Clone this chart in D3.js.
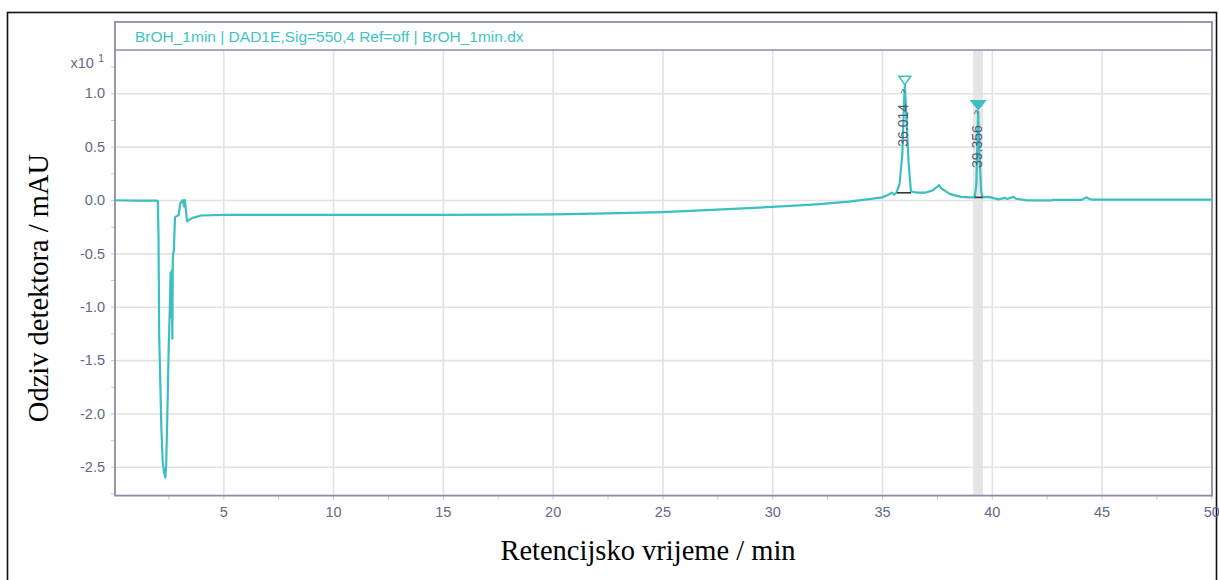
<!DOCTYPE html>
<html>
<head>
<meta charset="utf-8">
<script src="https://cdn.jsdelivr.net/npm/d3@7"></script>
<style>
  html, body { margin: 0; padding: 0; background: #fff; }
  svg { display: block; }
</style>
</head>
<body>
<svg id="chart" width="1219" height="580"></svg>
<script>
// ---- data ----
const titleText = "BrOH_1min | DAD1E,Sig=550,4 Ref=off | BrOH_1min.dx";
const xTitle = "Retencijsko vrijeme / min";
const yTitle = "Odziv detektora / mAU";
const yExponent = "x10";
const yExponentPow = "1";

const times = [
  0.07, 1.0, 1.95, 2.02, 2.05, 2.08, 2.18, 2.24, 2.30, 2.36, 2.40, 2.45, 2.51,
  2.57, 2.60, 2.63, 2.65, 2.68, 2.70, 2.72, 2.75, 2.80, 2.97, 3.04, 3.12, 3.16,
  3.21, 3.25, 3.35, 3.57, 4.0, 5.0, 10.0, 15.0, 20.0, 22.5, 25.0, 27.5, 30.0,
  32.0, 33.5, 34.5, 35.0, 35.3, 35.45, 35.55, 35.66, 35.8, 35.93, 36.0, 36.04,
  36.12, 36.21, 36.32, 36.6, 37.0, 37.3, 37.5, 37.6, 37.7, 38.1, 38.6, 39.0,
  39.22, 39.30, 39.35, 39.38, 39.44, 39.52, 39.58, 39.87, 40.3, 40.6, 40.7,
  41.0, 41.1, 41.6, 42.7, 42.8, 44.1, 44.3, 44.5, 44.65, 50.03
];
const signal = [
  -0.002, -0.005, -0.005, -0.01, -0.35, -1.27, -2.14, -2.45, -2.55, -2.60, -2.48, -2.03, -1.41,
  -0.97, -0.68, -1.10, -0.66, -1.30, -0.55, -0.50, -0.47, -0.16, -0.14, -0.03, -0.01, 0.0,
  -0.06, 0.0, -0.20, -0.17, -0.145, -0.14, -0.14, -0.14, -0.135, -0.125, -0.113, -0.09, -0.065,
  -0.04, -0.015, 0.01, 0.025, 0.05, 0.07, 0.05, 0.07, 0.15, 0.44, 0.90, 1.08,
  0.75, 0.35, 0.08, 0.07, 0.07, 0.09, 0.12, 0.14, 0.11, 0.055, 0.03, 0.025,
  0.025, 0.15, 0.60, 0.83, 0.40, 0.08, 0.025, 0.03, 0.006, 0.02, 0.01,
  0.03, 0.012, -0.003, -0.003, 0.002, 0.002, 0.025, 0.005, 0.003, 0.003
];

const xMajorTicks = [5, 10, 15, 20, 25, 30, 35, 40, 45, 50];
const xMinorTicks = [2.5, 7.5, 12.5, 17.5, 22.5, 27.5, 32.5, 37.5, 42.5, 47.5];
const yMajorTicks = [1.0, 0.5, 0.0, -0.5, -1.0, -1.5, -2.0, -2.5];
const yMinorTicks = [1.25, 0.75, 0.25, -0.25, -0.75, -1.25, -1.75, -2.25, -2.75];

const peakLabels = ["36.014", "39.356"];
const peakTimes = [36.04, 39.38];
const peakBaseStart = [35.68, 39.22];
const peakBaseEnd = [36.32, 39.58];
const peakBaseValue = [0.068, 0.025];
const peakMarkerTip = [1.08, 0.85];
const peakMarkerFilled = [false, true];
const peakLabelBottom = [0.50, 0.30];
const highlightBand = [39.15, 39.60];

// ---- layout ----
const svg = d3.select("#chart");
const L = 115, R = 1212, T = 50, B = 495.6, titleTop = 22;
const x = d3.scaleLinear().domain([0.068, 50.03]).range([L, R]);
const y = d3.scaleLinear().domain([1.406, -2.77]).range([T, B]);

const teal = "#3cbfc0";
const axisCol = "#8a8da6";
const gridCol = "#e2e2e2";
const labelCol = "#5e6a88";
const sans = "Liberation Sans, Arial, sans-serif";

// outer frame
svg.append("rect").attr("x", 7.5).attr("y", 12.5).attr("width", 1209).attr("height", 580)
  .attr("fill", "none").attr("stroke", "#111").attr("stroke-width", 1.6);

// highlight band
svg.append("rect")
  .attr("x", x(highlightBand[0])).attr("y", T)
  .attr("width", x(highlightBand[1]) - x(highlightBand[0])).attr("height", B - T)
  .attr("fill", "#e5e5e5");

// gridlines
const gx = svg.append("g").attr("transform", `translate(0,${B})`)
  .call(d3.axisBottom(x).tickValues(xMajorTicks.filter(d => d < 50)).tickSize(-(B - T)).tickFormat(""));
gx.select(".domain").remove();
gx.selectAll("line").attr("stroke", gridCol).attr("stroke-width", 1.6);

const gy = svg.append("g").attr("transform", `translate(${L},0)`)
  .call(d3.axisLeft(y).tickValues(yMajorTicks).tickSize(-(R - L)).tickFormat(""));
gy.select(".domain").remove();
gy.selectAll("line").attr("stroke", gridCol).attr("stroke-width", 1.6);

// axes with labels
const fmt = d => d.toFixed(1);
const ax = svg.append("g").attr("transform", `translate(0,${B})`)
  .call(d3.axisBottom(x).tickValues(xMajorTicks).tickSize(4).tickPadding(7).tickFormat(d => d));
ax.select(".domain").remove();
ax.selectAll("line").attr("stroke", "#c8c8d0");
ax.selectAll("text").attr("fill", labelCol).style("font-family", sans).style("font-size", "14.5px");

const axm = svg.append("g").attr("transform", `translate(0,${B})`)
  .call(d3.axisBottom(x).tickValues(xMinorTicks).tickSize(4).tickFormat(""));
axm.select(".domain").remove();
axm.selectAll("line").attr("stroke", "#c8c8d0");

const ay = svg.append("g").attr("transform", `translate(${L},0)`)
  .call(d3.axisLeft(y).tickValues(yMajorTicks).tickSize(4).tickPadding(6).tickFormat(fmt));
ay.select(".domain").remove();
ay.selectAll("line").attr("stroke", "#c8c8d0");
ay.selectAll("text").attr("fill", labelCol).style("font-family", sans).style("font-size", "14.5px");

const aym = svg.append("g").attr("transform", `translate(${L},0)`)
  .call(d3.axisLeft(y).tickValues(yMinorTicks).tickSize(4).tickFormat(""));
aym.select(".domain").remove();
aym.selectAll("line").attr("stroke", "#c8c8d0");

// exponent label
const expText = svg.append("text").attr("x", 104).attr("y", 68)
  .attr("text-anchor", "end").attr("fill", labelCol)
  .style("font-family", sans).style("font-size", "14.5px");
expText.append("tspan").text(yExponent + " ");
expText.append("tspan").attr("dy", -6).style("font-size", "11px").text(yExponentPow);

// plot border and title box
svg.append("rect").attr("x", L).attr("y", titleTop).attr("width", R - L).attr("height", B - titleTop)
  .attr("fill", "none").attr("stroke", axisCol).attr("stroke-width", 1.8);
svg.append("line").attr("x1", L).attr("x2", R).attr("y1", T).attr("y2", T)
  .attr("stroke", axisCol).attr("stroke-width", 1.5);
svg.append("text").attr("x", 135).attr("y", 41.5).attr("fill", "#3ec4c6")
  .style("font-family", sans).style("font-size", "15.5px")
  .text(titleText);

// signal trace
const pts = times.map((t, i) => [t, signal[i]]);
svg.append("path").datum(pts)
  .attr("fill", "none").attr("stroke", teal).attr("stroke-width", 2.2)
  .attr("stroke-linejoin", "round")
  .attr("d", d3.line().x(d => x(d[0])).y(d => y(d[1])));

// peak baselines, markers, labels
peakLabels.forEach((lab, i) => {
  svg.append("line")
    .attr("x1", x(peakBaseStart[i])).attr("x2", x(peakBaseEnd[i]))
    .attr("y1", y(peakBaseValue[i])).attr("y2", y(peakBaseValue[i]))
    .attr("stroke", "#333").attr("stroke-width", 1.6);

  const px = x(peakTimes[i]), py = y(peakMarkerTip[i]);
  const w = peakMarkerFilled[i] ? 7 : 6, h = 8.5;
  svg.append("path")
    .attr("d", `M${px - w},${py - h} L${px + w},${py - h} L${px},${py} Z`)
    .attr("fill", peakMarkerFilled[i] ? teal : "#fff")
    .attr("stroke", teal).attr("stroke-width", 1.5);

  const ly = y(peakLabelBottom[i]);
  svg.append("text")
    .attr("transform", `translate(${px + 3.5},${ly}) rotate(-90)`)
    .attr("fill", "#4f5a76")
    .style("font-family", sans).style("font-size", "14px")
    .text(lab);
  svg.append("text")
    .attr("x", px - 2).attr("y", ly - 50)
    .attr("text-anchor", "middle")
    .attr("fill", "#4f5a76")
    .style("font-family", sans).style("font-size", "10px")
    .text("^");
});

// axis titles
svg.append("text").attr("x", 648).attr("y", 560).attr("text-anchor", "middle")
  .style("font-family", "Liberation Serif, Times New Roman, serif").style("font-size", "28.5px")
  .attr("fill", "#000").text(xTitle);
svg.append("text").attr("transform", "translate(48,288) rotate(-90)").attr("text-anchor", "middle")
  .style("font-family", "Liberation Serif, Times New Roman, serif").style("font-size", "28.5px")
  .attr("fill", "#000").text(yTitle);
</script>
</body>
</html>
